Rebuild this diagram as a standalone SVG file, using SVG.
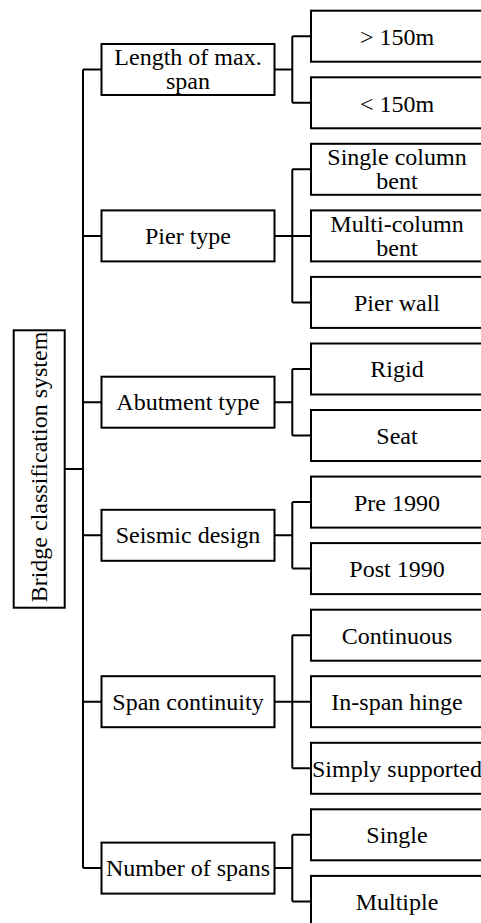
<svg xmlns="http://www.w3.org/2000/svg" width="481" height="923" viewBox="0 0 481 923">
<style>
rect{fill:#fff;stroke:#000;stroke-width:2}
text{font-family:"Liberation Serif","Times New Roman",serif;font-size:24px;fill:#000;text-anchor:middle}
.c{fill:none;stroke:#000;stroke-width:2}
</style>
<rect x="0" y="0" width="481" height="923" style="stroke:none"/>
<g id="connectors" class="c">
<path d="M64.7 469H83M83 69.5V868.1M83 69.5H101.5M83 235.9H101.5M83 402.2H101.5M83 535.3H101.5M83 701.7H101.5M83 868.1H101.5"/>
<path d="M274.5 69.5H292.3M292.3 36.2V102.8M292.3 36.2H311M292.3 102.8H311"/>
<path d="M274.5 235.9H292.3M292.3 169.3V302.4M292.3 169.3H311M292.3 235.9H311M292.3 302.4H311"/>
<path d="M274.5 402.2H292.3M292.3 369V435.5M292.3 369H311M292.3 435.5H311"/>
<path d="M274.5 535.3H292.3M292.3 502.1V568.6M292.3 502.1H311M292.3 568.6H311"/>
<path d="M274.5 701.7H292.3M292.3 635.2V768.3M292.3 635.2H311M292.3 701.7H311M292.3 768.3H311"/>
<path d="M274.5 868.1H292.3M292.3 834.8V901.4M292.3 834.8H311M292.3 901.4H311"/>
</g>
<g id="root"><rect x="13.7" y="330.3" width="51" height="277.4"/><text transform="translate(39.2 467) rotate(-90)" y="8">Bridge classification system</text></g>
<g id="length"><rect x="101.5" y="44" width="173" height="51"/><text x="188" y="65.3">Length of max.</text><text x="188" y="89.3">span</text></g>
<g id="pier"><rect x="101.5" y="210.4" width="173" height="51"/><text x="188" y="244">Pier type</text></g>
<g id="abutment"><rect x="101.5" y="376.7" width="173" height="51"/><text x="188" y="410.2">Abutment type</text></g>
<g id="seismic"><rect x="101.5" y="509.8" width="173" height="51"/><text x="188" y="543.3">Seismic design</text></g>
<g id="continuity"><rect x="101.5" y="676.2" width="173" height="51"/><text x="188" y="709.7">Span continuity</text></g>
<g id="number"><rect x="101.5" y="842.6" width="173" height="51"/><text x="188" y="876.1">Number of spans</text></g>
<g id="gt150"><rect x="311" y="10.7" width="180" height="51"/><text x="397" y="45">&gt; 150m</text></g>
<g id="lt150"><rect x="311" y="77.3" width="180" height="51"/><text x="397" y="111.5">&lt; 150m</text></g>
<g id="single-col"><rect x="311" y="143.8" width="180" height="51"/><text x="397" y="165.2">Single column</text><text x="397" y="189.2">bent</text></g>
<g id="multi-col"><rect x="311" y="210.4" width="180" height="51"/><text x="397" y="231.8">Multi-column</text><text x="397" y="255.8">bent</text></g>
<g id="pier-wall"><rect x="311" y="276.9" width="180" height="51"/><text x="397" y="311">Pier wall</text></g>
<g id="rigid"><rect x="311" y="343.5" width="180" height="51"/><text x="397" y="377.2">Rigid</text></g>
<g id="seat"><rect x="311" y="410" width="180" height="51"/><text x="397" y="444">Seat</text></g>
<g id="pre1990"><rect x="311" y="476.6" width="180" height="51"/><text x="397" y="510.5">Pre 1990</text></g>
<g id="post1990"><rect x="311" y="543.1" width="180" height="51"/><text x="397" y="577">Post 1990</text></g>
<g id="continuous"><rect x="311" y="609.7" width="180" height="51"/><text x="397" y="643.5">Continuous</text></g>
<g id="hinge"><rect x="311" y="676.2" width="180" height="51"/><text x="397" y="710">In-span hinge</text></g>
<g id="simply"><rect x="311" y="742.8" width="180" height="51"/><text x="397" y="776.5">Simply supported</text></g>
<g id="single"><rect x="311" y="809.3" width="180" height="51"/><text x="397" y="843">Single</text></g>
<g id="multiple"><rect x="311" y="875.9" width="180" height="51"/><text x="397" y="909.5">Multiple</text></g>
</svg>
